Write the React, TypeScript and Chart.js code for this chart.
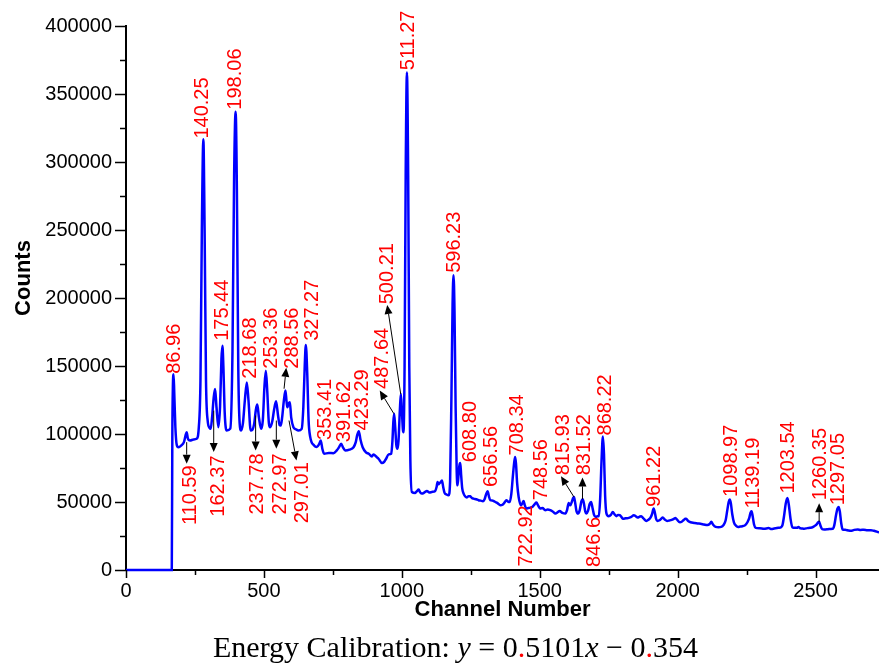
import React, { useEffect, useRef } from 'react';
import { Chart, registerables } from 'chart.js';

Chart.register(...registerables);

// Spectrum: [channel, counts]
const spectrum: [number, number][] = [
  [0, 0], [166, 0], [168, 100000], [170, 135000], [172.5, 144000], [175, 130000], [179, 105000],
  [184, 92000], [190, 90300], [200, 91500], [210, 94000], [216, 99000], [220, 101300], [224, 97000],
  [232, 95200], [245, 96000], [256, 96500], [264, 105000], [270, 140000], [275, 250000], [280.5, 316700],
  [285, 250000], [290, 140000], [296, 110000], [303, 104500], [307, 103800], [312, 112000], [318, 127000],
  [323, 133100], [328, 120000], [335, 105000], [341, 120000], [346, 155000], [349.6, 164800], [353, 150000],
  [358, 115000], [365, 102600], [378, 104000], [386, 160000], [392, 290000], [397.5, 337000], [402, 280000],
  [407, 150000], [412, 108000], [417, 102600], [424, 108000], [431, 125000], [438, 137900], [444, 125000],
  [452, 102600], [458, 103000], [465, 108000], [471, 118000], [476, 121600], [482, 112000], [490, 103800],
  [496, 110000], [502, 135000], [507, 146500], [512, 132000], [518, 108000], [522.5, 105000], [530, 109000],
  [537, 118000], [544, 124000], [551, 114000], [557, 106500], [561, 106200], [566, 112000], [572, 124000],
  [578, 131900], [582, 124000], [585, 119600], [590, 122500], [594, 123300], [599, 112000], [607, 105000],
  [616, 103500], [625, 102600], [637, 103800], [643, 120000], [648, 150000], [652, 165500], [657, 145000],
  [662, 110000], [668, 97700], [682, 91600], [692, 90500], [700, 92500], [706, 95200], [712, 89000],
  [718, 85500], [735, 86000], [752, 85900], [764, 87900], [773, 90500], [780, 92800], [787, 90000],
  [795, 87900], [810, 88500], [825, 90300], [833, 94000], [838, 99000], [844, 102100], [850, 96000],
  [858, 90300], [870, 86500], [880, 85500], [891.5, 83500], [897, 85000], [903, 84200], [909, 83000],
  [915.5, 81800], [928, 78600], [936, 79500], [943, 81800], [952, 85000], [961.5, 85500], [966, 95000],
  [969, 108000], [972, 114800], [976, 105000], [980, 92000], [984, 89100], [988, 95000], [993, 118000],
  [996.5, 129400], [1000, 118000], [1004, 103000], [1006, 101300], [1010, 150000], [1014, 290000],
  [1018.5, 365800], [1023, 290000], [1027, 150000], [1031, 80000], [1036.5, 57400], [1048.5, 56700],
  [1055, 58000], [1061, 59100], [1067, 57000], [1073, 56200], [1082, 57000], [1091, 58100], [1100, 57000],
  [1109, 57400], [1121, 58100], [1126, 61000], [1129.5, 64700], [1133, 63000], [1137, 64000], [1141, 64500],
  [1145.5, 65900], [1150, 61000], [1155, 56700], [1162, 55500], [1169.5, 54900], [1175, 65000],
  [1180, 130000], [1184, 195000], [1187.5, 216800], [1191, 190000], [1195, 120000], [1199, 72000],
  [1202, 62300], [1206, 71000], [1209, 77000], [1212, 78600], [1215, 70000], [1219, 60000], [1224, 56200],
  [1230, 54000], [1236, 53300], [1242, 54300], [1248, 54200], [1254, 53000], [1260, 52500], [1270, 52000],
  [1278, 51300], [1286, 51000], [1294, 50500], [1300, 52000], [1306, 56000], [1311, 57900], [1316, 54000],
  [1320.5, 51300], [1330, 51000], [1339, 50000], [1348, 49000], [1357, 47600], [1365, 48000], [1372, 49500],
  [1379, 51300], [1385, 50300], [1391, 50000], [1397, 56000], [1403, 70000], [1408, 80000], [1411, 83000],
  [1414, 78000], [1418, 64000], [1423.5, 53700], [1432, 47600], [1437, 49000], [1441.5, 50800],
  [1446, 47500], [1451, 45200], [1458, 45500], [1466, 45900], [1474, 46500], [1482, 48500], [1488, 49600],
  [1494, 47500], [1502, 45200], [1510, 45500], [1520, 44000], [1529, 44500], [1538, 44000], [1547, 43000],
  [1557, 41500], [1565, 42500], [1572, 43400], [1582, 42000], [1593, 41500], [1599, 44000], [1605, 49300],
  [1608, 48000], [1611, 47600], [1617, 50500], [1621, 53000], [1624, 53700], [1628, 50000], [1633, 43500],
  [1639, 41500], [1645, 44000], [1651, 50500], [1656, 52000], [1661, 48000], [1665, 43000], [1669, 41500],
  [1675, 43500], [1681, 48500], [1686, 50000], [1691, 46000], [1697, 40500], [1703, 39000], [1709, 39500],
  [1714, 39600], [1719, 52000], [1724, 80000], [1729, 98200], [1733, 85000], [1737, 55000], [1742, 41500],
  [1750, 39600], [1758, 40500], [1765, 42700], [1771, 41000], [1778, 39600], [1784, 40500], [1790, 40300],
  [1796, 39000], [1802, 37600], [1812, 38000], [1823, 38300], [1832, 39000], [1841, 40300], [1848, 39500],
  [1855, 38600], [1862, 39200], [1868, 39600], [1876, 38000], [1887, 36100], [1894, 37000], [1901, 38300],
  [1907, 41000], [1913, 45200], [1918, 41500], [1922, 37500], [1926, 36100], [1936, 36800], [1941, 37800],
  [1946, 38600], [1954, 37000], [1962, 36100], [1970, 36400], [1978, 36800], [1986, 37600], [1992, 38300],
  [1998, 37000], [2008, 35100], [2016, 35700], [2022, 36800], [2028, 37600], [2031, 37600], [2038, 36000],
  [2047, 35100], [2060, 34600], [2072, 34200], [2083, 34000], [2095, 33500], [2108, 33000], [2116, 33800],
  [2122, 35400], [2128, 33500], [2138, 31700], [2148, 31500], [2158, 31700], [2166, 33000], [2174, 36600],
  [2180, 44000], [2185, 50000], [2189, 51800], [2193, 49000], [2198, 41000], [2204, 35100], [2212, 32500],
  [2219, 31700], [2227, 32000], [2235, 32200], [2244, 32800], [2253, 35100], [2260, 38500], [2264, 42000],
  [2268, 43200], [2272, 39500], [2277, 33500], [2283, 31000], [2298, 30700], [2313, 30300], [2330, 30800],
  [2340, 30200], [2350, 30500], [2365, 31000], [2375, 31500], [2380, 33000], [2386, 40000], [2392, 49000],
  [2398, 53000], [2403, 48000], [2409, 38000], [2416, 31300], [2426, 31000], [2433, 31000], [2438, 31700],
  [2443, 30800], [2451, 30500], [2459, 30300], [2470, 30800], [2480, 31000], [2490, 31500], [2495, 32200],
  [2504, 33500], [2509, 35000], [2513, 35400], [2518, 32500], [2524, 30000], [2531, 29800], [2545, 30000],
  [2555, 30200], [2562, 30300], [2568, 33000], [2574, 40000], [2579, 45000], [2584, 46400], [2588, 43000],
  [2593, 34500], [2598, 29800], [2610, 29500], [2620, 29000], [2628, 28800], [2640, 29500], [2653, 29800],
  [2663, 29500], [2675, 29600], [2688, 29300], [2701, 29300], [2712, 28800], [2722, 28200], [2730, 27600],
];

// Peak energy labels (keV) and where each label sits, in data units
const peakText = [
  '86.96', '140.25', '198.06', '175.44', '218.68', '253.36', '288.56', '327.27', '353.41', '391.62',
  '423.29', '487.64', '500.21', '511.27', '596.23', '608.80', '656.56', '708.34', '748.56', '815.93',
  '831.52', '868.22', '961.22', '1098.97', '1139.19', '1203.54', '1260.35', '1297.05',
  '110.59', '162.37', '237.78', '272.97', '297.01', '722.92', '846.6',
];
const peakLabelChannel = [
  172, 274, 394, 345, 448, 523, 600, 672, 718, 787,
  854, 927, 945, 1020, 1187, 1247, 1320, 1417, 1502, 1581,
  1659, 1734, 1913, 2190, 2271, 2398, 2513, 2580,
  230, 333, 472, 557, 636, 1447, 1695,
];
const peakLabelCounts = [
  144300, 317200, 338500, 168500, 140700, 148000, 148000, 168500, 95600, 94000,
  102600, 133100, 195400, 367500, 218500, 79300, 61000, 84200, 51300, 69600,
  69600, 98900, 46400, 53700, 45200, 56200, 51300, 47600,
  76900, 84200, 85700, 85700, 79300, 47600, 39000,
];
// true: the label hangs below its anchor
const peakLabelBelow = [
  false, false, false, false, false, false, false, false, false, false,
  false, false, false, false, false, false, false, false, false, false,
  false, false, false, false, false, false, false, false,
  true, true, true, true, true, true, true,
];

// Arrows from a peak to its label
const arrowFromChannel = [220, 318, 470, 545, 591, 573, 971, 996, 1624, 1655, 2513];
const arrowFromCounts = [94000, 117200, 113600, 109900, 109900, 133300, 115000, 129400, 53700, 52000, 35400];
const arrowToChannel = [220, 318, 470, 545, 618, 581, 920, 947, 1577, 1655, 2513];
const arrowToCounts = [78200, 86700, 87900, 89200, 80600, 148700, 131900, 194900, 68900, 68100, 49100];

// Axis ticks
const xTickValues = [0, 500, 1000, 1500, 2000, 2500];
const xMinorTickValues = [250, 750, 1250, 1750, 2250, 2750];
const yTickValues = [0, 50000, 100000, 150000, 200000, 250000, 300000, 350000, 400000];
const yMinorTickValues = [25000, 75000, 125000, 175000, 225000, 275000, 325000, 375000];

const X_MAX = 2730;
const Y_MAX = 400000;

const SANS = '"Liberation Sans", Arial, Helvetica, sans-serif';

const annotationPlugin = {
  id: 'peakAnnotations',
  afterDraw(chart: any) {
    const { ctx, chartArea } = chart;
    const xs = chart.scales.x;
    const ys = chart.scales.y;
    ctx.save();

    // tick marks (major and minor)
    ctx.strokeStyle = '#000';
    ctx.lineWidth = 1.5;
    ctx.beginPath();
    const yTick = (v: number, len: number) => {
      const py = Math.round(ys.getPixelForValue(v)) + 0.5;
      ctx.moveTo(chartArea.left - len, py);
      ctx.lineTo(chartArea.left, py);
    };
    const xTick = (v: number, len: number) => {
      if (v > X_MAX) return;
      const px = Math.round(xs.getPixelForValue(v)) + 0.5;
      ctx.moveTo(px, chartArea.bottom);
      ctx.lineTo(px, chartArea.bottom + len);
    };
    yTickValues.forEach((v) => yTick(v, 11));
    yMinorTickValues.forEach((v) => yTick(v, 6));
    xTickValues.forEach((v) => xTick(v, 8));
    xMinorTickValues.forEach((v) => xTick(v, 5));
    ctx.stroke();

    // arrows
    ctx.strokeStyle = '#000';
    ctx.fillStyle = '#000';
    ctx.lineWidth = 1;
    for (let i = 0; i < arrowFromChannel.length; i++) {
      const x1 = xs.getPixelForValue(arrowFromChannel[i]);
      const y1 = ys.getPixelForValue(arrowFromCounts[i]);
      const x2 = xs.getPixelForValue(arrowToChannel[i]);
      const y2 = ys.getPixelForValue(arrowToCounts[i]);
      const ang = Math.atan2(y2 - y1, x2 - x1);
      const headLen = 9;
      const headW = 4;
      const bx = x2 - headLen * Math.cos(ang);
      const by = y2 - headLen * Math.sin(ang);
      ctx.beginPath();
      ctx.moveTo(x1, y1);
      ctx.lineTo(bx, by);
      ctx.stroke();
      ctx.beginPath();
      ctx.moveTo(x2, y2);
      ctx.lineTo(bx + headW * Math.sin(ang), by - headW * Math.cos(ang));
      ctx.lineTo(bx - headW * Math.sin(ang), by + headW * Math.cos(ang));
      ctx.closePath();
      ctx.fill();
    }

    // peak labels, rotated to read upwards
    ctx.fillStyle = '#ff0000';
    ctx.font = `20px ${SANS}`;
    ctx.textBaseline = 'middle';
    for (let i = 0; i < peakText.length; i++) {
      const px = xs.getPixelForValue(peakLabelChannel[i]);
      const py = ys.getPixelForValue(peakLabelCounts[i]);
      ctx.save();
      ctx.translate(px, py);
      ctx.rotate(-Math.PI / 2);
      ctx.textAlign = peakLabelBelow[i] ? 'right' : 'left';
      ctx.fillText(peakText[i], 0, 1);
      ctx.restore();
    }

    // y axis title
    ctx.fillStyle = '#000';
    ctx.font = `bold 22px ${SANS}`;
    ctx.textAlign = 'center';
    ctx.textBaseline = 'middle';
    ctx.save();
    ctx.translate(24, (chartArea.top + chartArea.bottom) / 2 - 20);
    ctx.rotate(-Math.PI / 2);
    ctx.fillText('Counts', 0, 0);
    ctx.restore();

    ctx.restore();
  },
};

export default function App() {
  const canvasRef = useRef<HTMLCanvasElement>(null);

  useEffect(() => {
    document.body.style.margin = '0';
    const canvas = canvasRef.current;
    if (!canvas) return;
    const chart = new Chart(canvas, {
      type: 'line',
      data: {
        datasets: [
          {
            data: spectrum.map(([c, n]) => ({ x: c, y: n })),
            borderColor: '#0000ff',
            borderWidth: 2.5,
            pointRadius: 0,
            fill: false,
            cubicInterpolationMode: 'monotone',
            clip: { left: 0, top: 0, right: 0, bottom: 3 } as any,
          },
        ],
      },
      options: {
        animation: false,
        responsive: false,
        maintainAspectRatio: false,
        events: [],
        layout: { padding: { top: 24, right: 0, bottom: 0, left: 0 } },
        plugins: {
          legend: { display: false },
          tooltip: { enabled: false },
        },
        scales: {
          x: {
            type: 'linear',
            min: 0,
            max: X_MAX,
            afterBuildTicks: (s: any) => {
              s.ticks = xTickValues.map((v) => ({ value: v }));
            },
            afterFit: (s: any) => {
              s.height = 95;
              s.paddingRight = 0;
            },
            border: { display: true, color: '#000', width: 2 },
            grid: { display: false, drawTicks: false },
            ticks: {
              padding: 9,
              color: '#000',
              maxRotation: 0,
              autoSkip: false,
              font: { family: SANS, size: 20 },
              callback: (v: any) => String(v),
            },
            title: {
              display: true,
              text: 'Channel Number',
              color: '#000',
              font: { family: SANS, size: 22, weight: 'bold' },
              padding: { top: 0, bottom: 42 },
            },
          },
          y: {
            type: 'linear',
            min: 0,
            max: Y_MAX,
            afterBuildTicks: (s: any) => {
              s.ticks = yTickValues.map((v) => ({ value: v }));
            },
            afterFit: (s: any) => {
              s.width = 126;
            },
            border: { display: true, color: '#000', width: 2 },
            grid: { display: false, drawTicks: false },
            ticks: {
              padding: 14,
              color: '#000',
              font: { family: SANS, size: 20 },
              callback: (v: any) => String(v),
            },
          },
        },
      },
      plugins: [annotationPlugin],
    } as any);
    return () => chart.destroy();
  }, []);

  const serif = '"Liberation Serif", "Times New Roman", Times, serif';
  const red = { color: '#ff0000' };
  return (
    <div style={{ position: 'relative', width: 879, height: 665, overflow: 'hidden', background: '#fff' }}>
      <canvas ref={canvasRef} width={879} height={665} style={{ display: 'block' }} />
      <div
        style={{
          position: 'absolute',
          left: 213,
          top: 632,
          fontFamily: serif,
          fontSize: 30,
          lineHeight: '30px',
          whiteSpace: 'nowrap',
          color: '#000',
        }}
      >
        Energy Calibration: <i>y</i> = 0<span style={red}>.</span>5101<i>x</i> − 0<span style={red}>.</span>354
      </div>
    </div>
  );
}
